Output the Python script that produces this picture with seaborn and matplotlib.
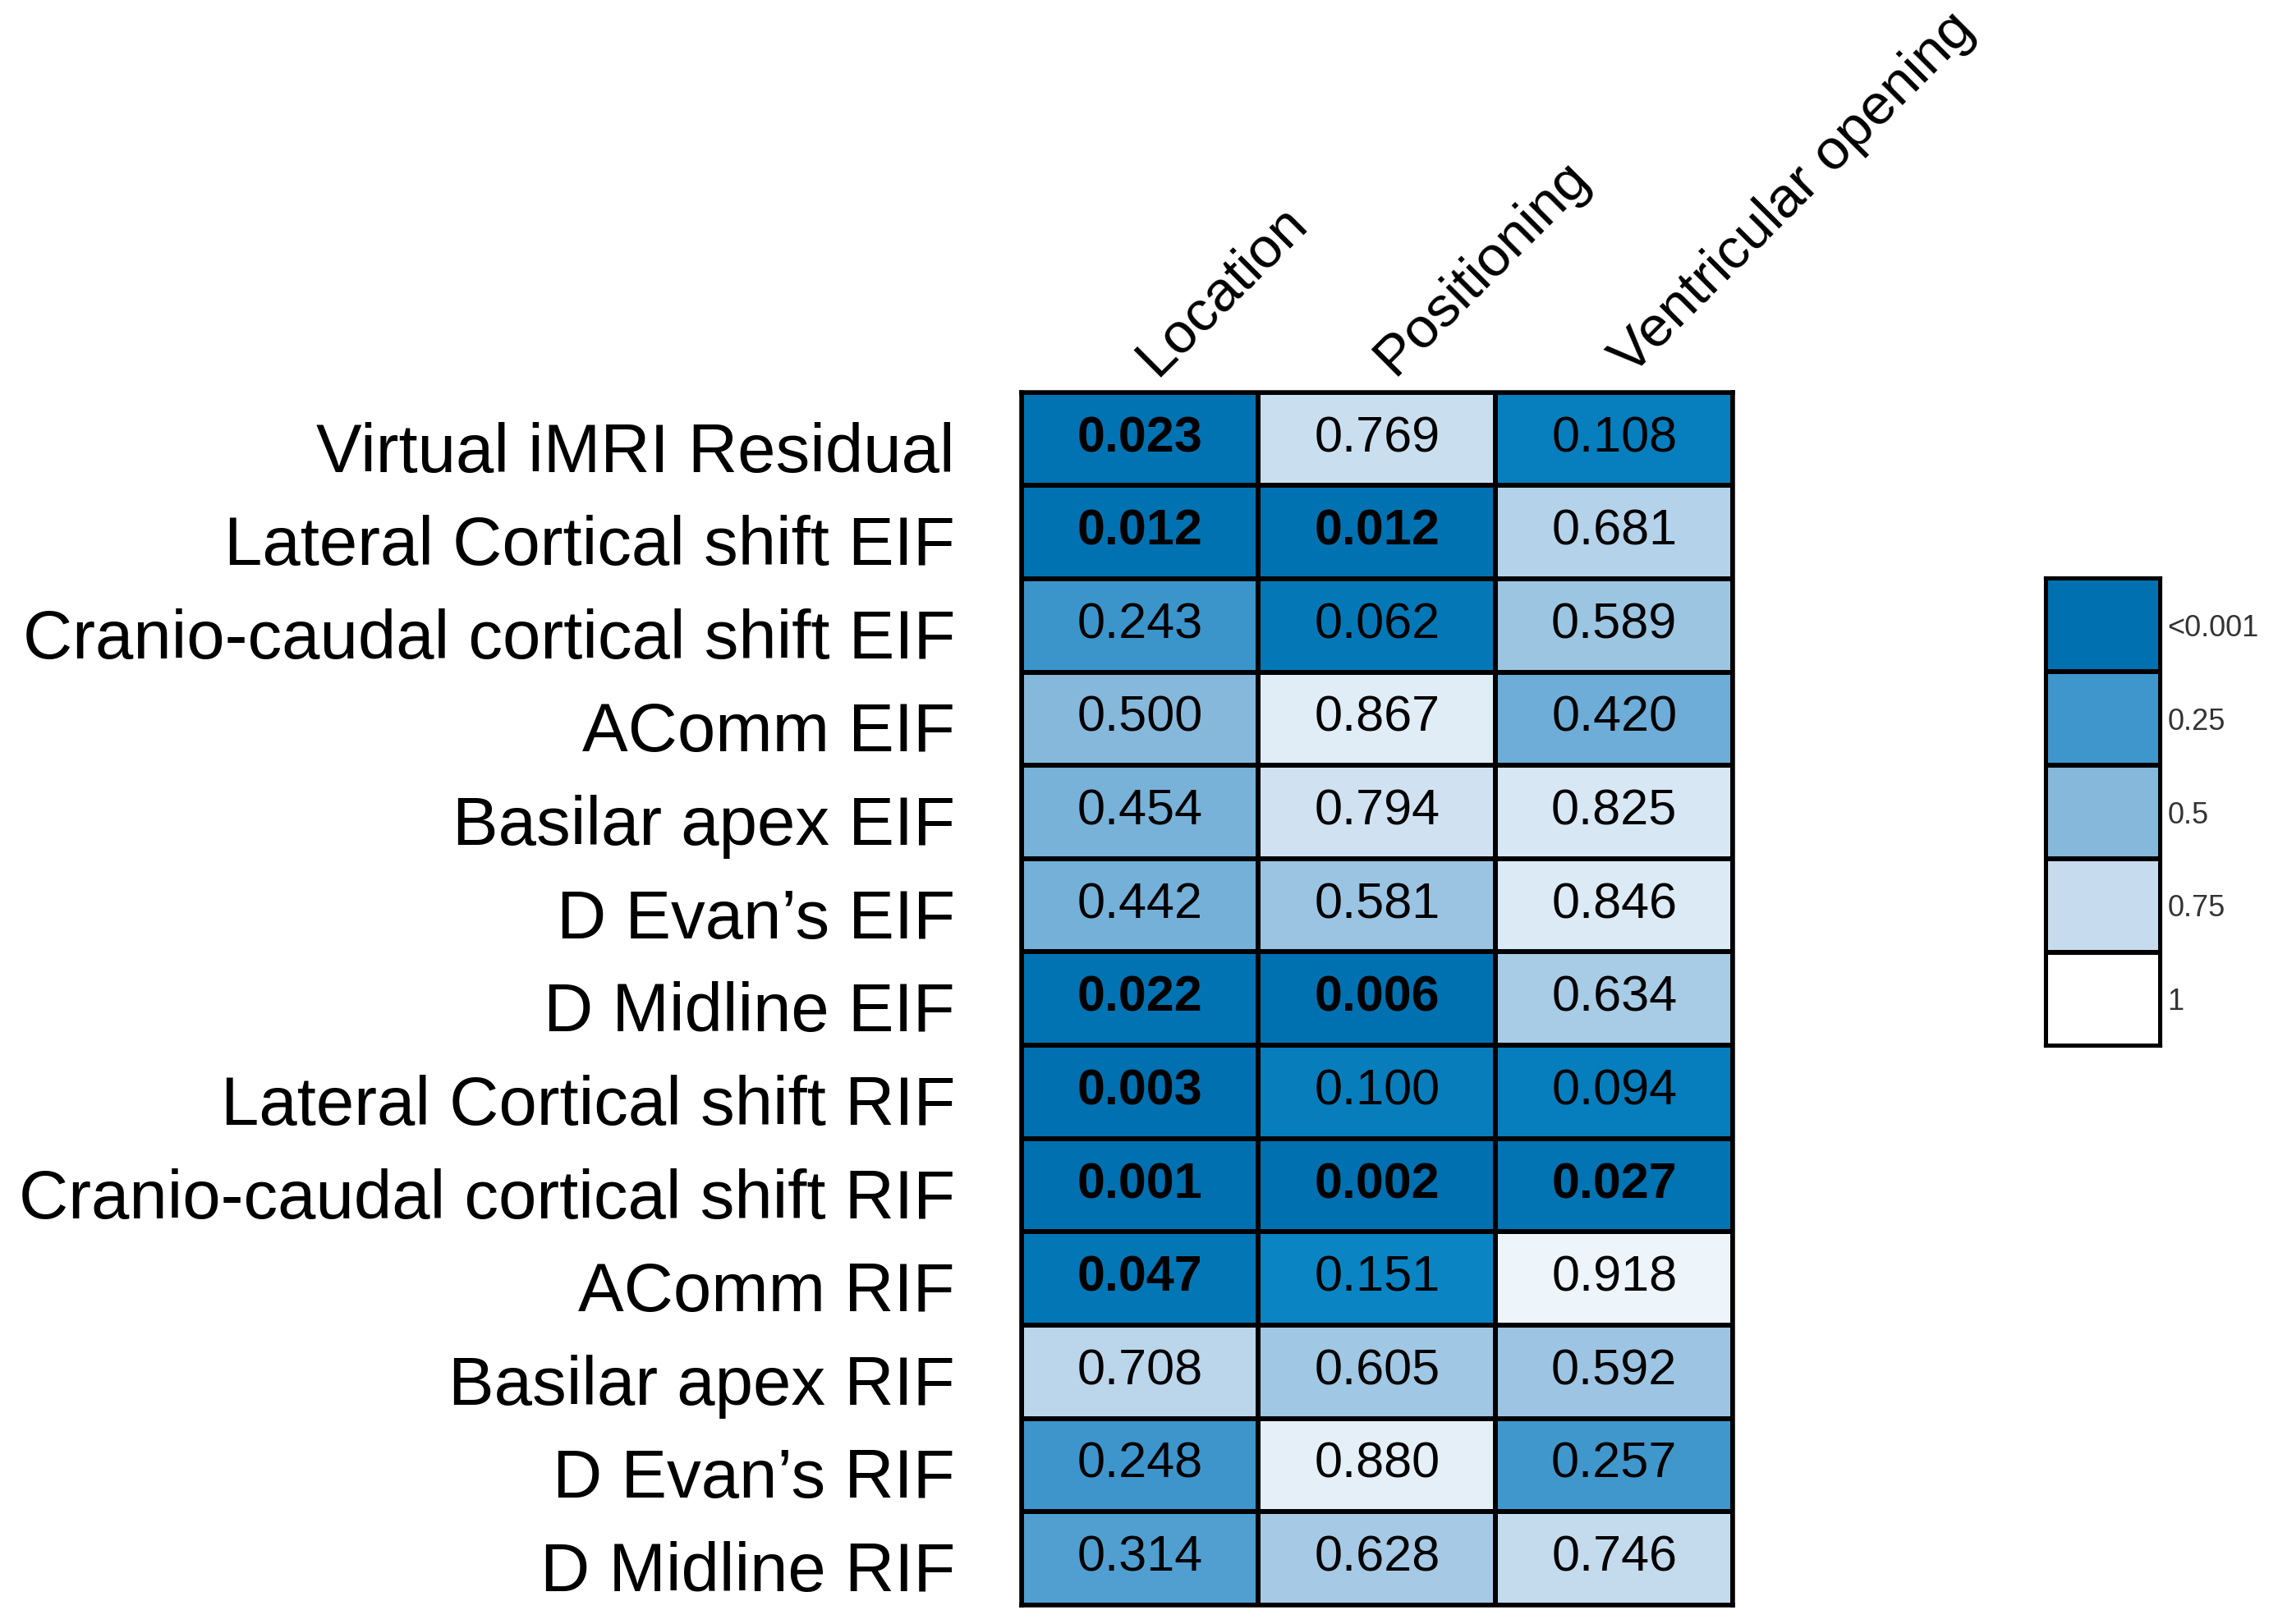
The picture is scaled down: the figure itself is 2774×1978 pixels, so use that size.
import numpy as np
import pandas as pd
import matplotlib
matplotlib.use("Agg")
import matplotlib.pyplot as plt
import seaborn as sns
from matplotlib.colors import LinearSegmentedColormap
from matplotlib.transforms import ScaledTranslation

row_labels = [
    "Virtual iMRI Residual",
    "Lateral Cortical shift EIF",
    "Cranio-caudal cortical shift EIF",
    "AComm EIF",
    "Basilar apex EIF",
    "D Evan\u2019s EIF",
    "D Midline EIF",
    "Lateral Cortical shift RIF",
    "Cranio-caudal cortical shift RIF",
    "AComm RIF",
    "Basilar apex RIF",
    "D Evan\u2019s RIF",
    "D Midline RIF",
]
col_labels = ["Location", "Positioning", "Ventricular opening"]

location = [0.023, 0.012, 0.243, 0.500, 0.454, 0.442, 0.022,
            0.003, 0.001, 0.047, 0.708, 0.248, 0.314]
positioning = [0.769, 0.012, 0.062, 0.867, 0.794, 0.581, 0.006,
               0.100, 0.002, 0.151, 0.605, 0.880, 0.628]
ventricular = [0.108, 0.681, 0.589, 0.420, 0.825, 0.846, 0.634,
               0.094, 0.027, 0.918, 0.592, 0.257, 0.746]

legend_levels = [0.0, 0.25, 0.5, 0.75, 1.0]
legend_labels = ["<0.001", "0.25", "0.5", "0.75", "1"]

sns.set_style("white")
plt.rcParams["font.family"] = ["Liberation Sans", "DejaVu Sans"]
plt.rcParams["text.color"] = "black"
plt.rcParams["xtick.color"] = "black"
plt.rcParams["ytick.color"] = "black"

pvals = pd.DataFrame(
    {col_labels[0]: location, col_labels[1]: positioning, col_labels[2]: ventricular},
    index=row_labels,
)
annot = pvals.map(lambda v: f"{v:.3f}")

cmap = LinearSegmentedColormap.from_list(
    "pblues",
    [(0.0, "#0070b0"), (0.15, "#0a84c3"), (0.25, "#3f96cc"),
     (0.5, "#85b8dc"), (0.75, "#c5dcee"), (1.0, "#ffffff")],
)

fig = plt.figure(figsize=(27.74, 19.78), dpi=100)
ax = fig.add_axes([0.4483, 0.0117, 0.3124, 0.7468])
sns.heatmap(pvals, ax=ax, cmap=cmap, vmin=0, vmax=1, annot=annot, fmt="",
            cbar=False, linewidths=4, linecolor="black",
            annot_kws={"fontsize": 44, "color": "black"})
for t in ax.texts:
    if float(t.get_text()) < 0.05:
        t.set_fontweight("bold")

ax.xaxis.tick_top()
ax.set_xticklabels(col_labels, rotation=45, ha="left", rotation_mode="anchor",
                   fontsize=50)
ax.set_yticklabels(row_labels, rotation=0, fontsize=60)
ax.tick_params(axis="x", length=0, pad=6)
ax.tick_params(axis="y", length=0, pad=58)
for lab in ax.get_xticklabels():
    lab.set_transform(lab.get_transform() + ScaledTranslation(0.3, 0, fig.dpi_scale_trans))
for lab in ax.get_yticklabels():
    lab.set_transform(lab.get_transform() + ScaledTranslation(0, -0.18, fig.dpi_scale_trans))
ax.set_xlabel("")
ax.set_ylabel("")
for s in ax.spines.values():
    s.set_visible(True)
    s.set_linewidth(4)
    s.set_color("black")

# discrete legend box
cax = fig.add_axes([0.898, 0.356, 0.0505, 0.288])
legend_df = pd.DataFrame({"p": legend_levels}, index=legend_labels)
sns.heatmap(legend_df, ax=cax, cmap=cmap, vmin=0, vmax=1, cbar=False,
            linewidths=3, linecolor="black")
cax.yaxis.tick_right()
cax.set_xticks([])
cax.set_yticklabels(legend_labels, rotation=0, fontsize=26, color="#333333")
cax.tick_params(axis="y", length=0, pad=6)
cax.set_xlabel("")
cax.set_ylabel("")
for s in cax.spines.values():
    s.set_visible(True)
    s.set_linewidth(3)
    s.set_color("black")

fig.savefig("out.png", dpi=100)
